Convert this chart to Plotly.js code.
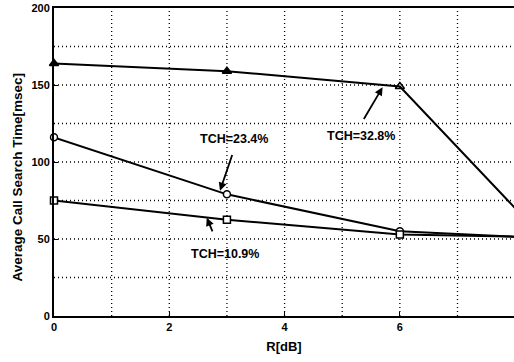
<!DOCTYPE html>
<html><head><meta charset="utf-8">
<script src="https://cdn.plot.ly/plotly-3.0.1.min.js"></script>
<style>html,body{margin:0;padding:0;background:#fff;}#c{width:514px;height:362px;}</style>
</head><body><div id="c"></div>
<script>
const rdB = [0, 3, 6, 8];
const tch328 = [164, 159, 149, 70];
const tch234 = [116, 79, 55, 51.5];
const tch109 = [75, 62.5, 53, 51.5];
const xTicks = [0, 2, 4, 6, 8];
const yTicks = [0, 50, 100, 150, 200];
const xGrid = [1, 2, 3, 4, 5, 6, 7];
const yGrid = [25, 50, 75, 100, 125, 150, 175];

const lineStyle = {color: '#000', width: 2};
const traces = [
  {x: rdB, y: tch328, mode: 'lines+markers', line: lineStyle,
   marker: {symbol: ['triangle-up','triangle-up','triangle-up-open','triangle-up'], size: 8, color: '#000', line: {color: '#000', width: 1.5}}, cliponaxis: false},
  {x: rdB, y: tch234, mode: 'lines+markers', line: lineStyle,
   marker: {symbol: 'circle', size: 7, color: '#fff', line: {color: '#000', width: 1.5}}, cliponaxis: false},
  {x: rdB, y: tch109, mode: 'lines+markers', line: lineStyle,
   marker: {symbol: 'square', size: 7, color: '#fff', line: {color: '#000', width: 1.5}}, cliponaxis: false}
];

const FAM = 'Liberation Sans, Arial, sans-serif';
const fnt = {family: FAM, size: 12.5, color: '#000', weight: 'bold'};
function arrow(hx, hy, tx, ty) {
  return {x: hx, y: hy, ax: tx, ay: ty, xref: 'x', yref: 'y', axref: 'x', ayref: 'y',
    text: '', showarrow: true, arrowhead: 2, arrowsize: 0.9, arrowwidth: 1.8, arrowcolor: '#000'};
}
function label(t, x, y) {
  return {x: x, y: y, xref: 'x', yref: 'y', text: t, showarrow: false, font: fnt};
}
const gridLine = {color: '#000', width: 1.3, dash: '1px,3px'};
const shapes = [];
xGrid.forEach(v => shapes.push({type: 'line', xref: 'x', yref: 'paper', x0: v, x1: v, y0: 0, y1: 1, line: gridLine, layer: 'below'}));
yGrid.forEach(v => shapes.push({type: 'line', xref: 'paper', yref: 'y', x0: 0, x1: 1, y0: v, y1: v, line: gridLine, layer: 'below'}));

const layout = {
  width: 514, height: 362,
  margin: {l: 54, r: 0, t: 8, b: 46},
  paper_bgcolor: '#fff', plot_bgcolor: '#fff',
  showlegend: false,
  font: fnt,
  shapes: shapes,
  xaxis: {range: [0, 7.98], tickmode: 'array', tickvals: xTicks, ticktext: xTicks.map(String),
    showgrid: false, zeroline: false, showline: true, linecolor: '#000', linewidth: 2, mirror: true,
    ticks: 'inside', ticklen: 4, tickcolor: '#000',
    tickfont: {family: FAM, size: 11, color: '#000', weight: 'bold'},
    title: {text: 'R[dB]', font: {family: FAM, size: 13, color: '#000', weight: 'bold'}, standoff: 10}},
  yaxis: {range: [0, 200], tickmode: 'array', tickvals: yTicks, ticktext: yTicks.map(String),
    showgrid: false, zeroline: false, showline: true, linecolor: '#000', linewidth: 2, mirror: true,
    ticks: 'inside', ticklen: 4, tickcolor: '#000',
    tickfont: {family: FAM, size: 11, color: '#000', weight: 'bold'}},
  annotations: [
    {xref: 'paper', yref: 'paper', x: -0.08, y: 0.45, xanchor: 'center', yanchor: 'middle', textangle: -90,
     text: 'Average Call Search Time[msec]', showarrow: false, font: {family: FAM, size: 13.5, color: '#000', weight: 'bold'}},
    arrow(5.70, 148.5, 5.36, 127), label('TCH=32.8%', 5.32, 117),
    arrow(2.88, 81.4, 3.10, 105.5), label('TCH=23.4%', 3.13, 114.7),
    arrow(2.65, 63.8, 2.76, 54), label('TCH=10.9%', 2.96, 40.4)
  ]
};
Plotly.newPlot('c', traces, layout, {staticPlot: true, displayModeBar: false});
</script></body></html>
